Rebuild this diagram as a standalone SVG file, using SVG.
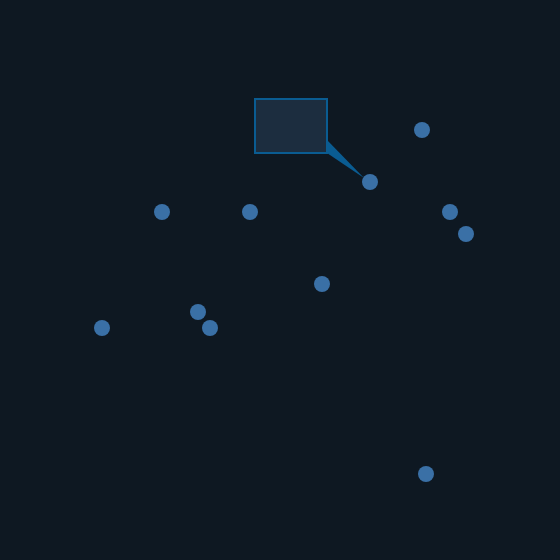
<svg xmlns="http://www.w3.org/2000/svg" width="560" height="560" viewBox="0 0 560 560">
<style>
.pt{fill:#3a70a6}
.box{fill:#1c2d3f;stroke:#0a5c92;stroke-width:2}
.ptr{fill:#0a5c92}
</style>
<rect width="560" height="560" fill="#0e1822"/>
<g id="connectors">
<polygon class="ptr" points="327,140 327,153 364,178"/>
</g>
<g id="callout"><rect class="box" x="255" y="99" width="72" height="54"/></g>
<g id="p1"><circle class="pt" cx="422" cy="130" r="8"/></g>
<g id="p2"><circle class="pt" cx="370" cy="182" r="8"/></g>
<g id="p3"><circle class="pt" cx="162" cy="212" r="8"/></g>
<g id="p4"><circle class="pt" cx="250" cy="212" r="8"/></g>
<g id="p5"><circle class="pt" cx="450" cy="212" r="8"/></g>
<g id="p6"><circle class="pt" cx="466" cy="234" r="8"/></g>
<g id="p7"><circle class="pt" cx="322" cy="284" r="8"/></g>
<g id="p8"><circle class="pt" cx="198" cy="312" r="8"/></g>
<g id="p9"><circle class="pt" cx="210" cy="328" r="8"/></g>
<g id="p10"><circle class="pt" cx="102" cy="328" r="8"/></g>
<g id="p11"><circle class="pt" cx="426" cy="474" r="8"/></g>
</svg>
